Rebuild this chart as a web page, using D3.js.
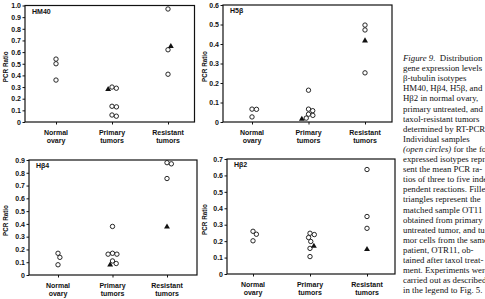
<!DOCTYPE html>
<html>
<head>
<meta charset="utf-8">
<script src="https://cdn.jsdelivr.net/npm/d3@7"></script>
<style>
  body { margin: 0; background: #fff; }
  svg { display: block; }
</style>
</head>
<body>
<svg id="chart" width="485" height="299"></svg>
<script>
// categories on the x axis of every panel
const categories = ["Normal ovary", "Primary tumors", "Resistant tumors"];
const categoryLines = [["Normal", "ovary"], ["Primary", "tumors"], ["Resistant", "tumors"]];

const panelNames = ["HM40", "H5β", "Hβ4", "Hβ2"];
const yMaxes = [1.0, 0.6, 0.9, 0.7];

// open circles: individual samples, per category
const hm40Normal = [0.54, 0.50, 0.36];
const hm40Primary = [0.30, 0.29, 0.135, 0.13, 0.06, 0.05];
const hm40Resistant = [0.97, 0.62, 0.41];
const hm40Matched = [null, 0.28, 0.65];   // filled triangles (OT11 / OTR11)

const h5bNormal = [0.066, 0.065, 0.026];
const h5bPrimary = [0.163, 0.066, 0.058, 0.04, 0.034, 0.02];
const h5bResistant = [0.497, 0.472, 0.252];
const h5bMatched = [null, 0.015, 0.417];

const hb4Normal = [0.17, 0.138, 0.08];
const hb4Primary = [0.38, 0.17, 0.163, 0.163, 0.11, 0.09];
const hb4Resistant = [0.879, 0.87, 0.755];
const hb4Matched = [null, 0.08, 0.377];

const hb2Normal = [0.26, 0.242, 0.202];
const hb2Primary = [0.248, 0.24, 0.222, 0.198, 0.156, 0.106];
const hb2Resistant = [0.636, 0.35, 0.278];
const hb2Matched = [null, 0.17, 0.15];

const captionLines = [
  [["Figure 9.", true], ["  Distribution", false]],
  [["gene expression levels", false]],
  [["β-tubulin isotypes", false]],
  [["HM40, Hβ4, H5β, and", false]],
  [["Hβ2 in normal ovary,", false]],
  [["primary untreated, and", false]],
  [["taxol-resistant tumors", false]],
  [["determined by RT-PCR.", false]],
  [["Individual samples", false]],
  [["(open circles)", true], [" for the four", false]],
  [["expressed isotypes repre-", false]],
  [["sent the mean PCR ra-", false]],
  [["tios of three to five inde-", false]],
  [["pendent reactions. Filled", false]],
  [["triangles represent the", false]],
  [["matched sample OT11", false]],
  [["obtained from primary", false]],
  [["untreated tumor, and tu-", false]],
  [["mor cells from the same", false]],
  [["patient, OTR11, ob-", false]],
  [["tained after taxol treat-", false]],
  [["ment. Experiments were", false]],
  [["carried out as described", false]],
  [["in the legend to Fig. 5.", false]]
];

const panelData = [
  { circles: [hm40Normal, hm40Primary, hm40Resistant], matched: hm40Matched },
  { circles: [h5bNormal, h5bPrimary, h5bResistant], matched: h5bMatched },
  { circles: [hb4Normal, hb4Primary, hb4Resistant], matched: hb4Matched },
  { circles: [hb2Normal, hb2Primary, hb2Resistant], matched: hb2Matched }
];

// panel boxes (page layout)
const layouts = [
  { left: 25, right: 194.5, top: 5.5, bottom: 122, px: [31, 143], labelX: 6 },
  { left: 223, right: 392, top: 5, bottom: 122, px: [29, 142], labelX: 205 },
  { left: 29, right: 197, top: 160, bottom: 275, px: [29, 138], labelX: 6 },
  { left: 227, right: 395, top: 159, bottom: 274, px: [26, 140], labelX: 205 }
];

const svg = d3.select("#chart");
const font = "'Liberation Sans', Arial, sans-serif";
const ink = "#111";
const D = 4.5; // marker spacing for dodging

// simple beeswarm: push overlapping marks sideways
function dodge(points) {
  const placed = [];
  points.forEach(p => {
    const cands = [0];
    placed.forEach(q => {
      const dy = p.py - q.py;
      if (Math.abs(dy) < D) {
        const dx = Math.sqrt(D * D - dy * dy);
        cands.push(q.dx + dx, q.dx - dx);
      }
    });
    cands.sort((a, b) => Math.abs(a) - Math.abs(b) || b - a);
    let best = 0;
    for (const c of cands) {
      if (placed.every(q => (c - q.dx) ** 2 + (p.py - q.py) ** 2 >= D * D - 1e-6)) { best = c; break; }
    }
    p.dx = best;
    placed.push(p);
  });
}

panelData.forEach((pd, i) => {
  const L = layouts[i];
  const g = svg.append("g");

  const x = d3.scalePoint()
    .domain(categories)
    .range([L.left + L.px[0], L.left + L.px[1]]);

  const y = d3.scaleLinear()
    .domain([0, yMaxes[i]])
    .range([L.bottom, L.top]);

  // y axis
  const yAxis = g.append("g")
    .attr("transform", `translate(${L.left},0)`)
    .call(d3.axisLeft(y)
      .tickValues(d3.range(0, yMaxes[i] + 0.001, 0.1))
      .tickSize(2.5)
      .tickPadding(1.5)
      .tickFormat(d => d < 0.001 ? "0" : d3.format(".1f")(d)));
  yAxis.select(".domain").remove();
  yAxis.selectAll("line").attr("stroke", ink).attr("stroke-width", 1);
  yAxis.selectAll("text")
    .attr("fill", ink)
    .style("font-family", font)
    .style("font-size", "7px")
    .style("font-weight", "bold");

  // x axis ticks
  const xAxis = g.append("g")
    .attr("transform", `translate(0,${L.bottom})`)
    .call(d3.axisBottom(x).tickSize(2.5).tickFormat(""));
  xAxis.select(".domain").remove();
  xAxis.selectAll("line").attr("stroke", ink).attr("stroke-width", 1);

  categories.forEach((c, k) => {
    categoryLines[k].forEach((ln, j) => {
      g.append("text")
        .attr("x", x(c))
        .attr("y", L.bottom + 12.5 + j * 8.5)
        .attr("text-anchor", "middle")
        .attr("fill", ink)
        .style("font-family", font)
        .style("font-size", "7px")
        .style("font-weight", "bold")
        .text(ln);
    });
  });

  // frame
  g.append("rect")
    .attr("x", L.left)
    .attr("y", L.top)
    .attr("width", L.right - L.left)
    .attr("height", L.bottom - L.top)
    .attr("fill", "none")
    .attr("stroke", ink)
    .attr("stroke-width", 1.2);

  // panel name
  g.append("text")
    .attr("x", L.left + 7)
    .attr("y", L.top + 8)
    .attr("fill", ink)
    .style("font-family", font)
    .style("font-size", "7px")
    .style("font-weight", "bold")
    .text(panelNames[i]);

  // y label
  g.append("text")
    .attr("transform", `translate(${L.labelX},${(L.top + L.bottom) / 2 + 3}) rotate(-90)`)
    .attr("text-anchor", "middle")
    .attr("dy", "0.35em")
    .attr("fill", ink)
    .style("font-family", font)
    .style("font-size", "6.3px")
    .style("font-weight", "bold")
    .text("PCR Ratio");

  // marks
  categories.forEach((c, k) => {
    const pts = pd.circles[k].map(v => ({ value: v, kind: "circle", py: y(v) }));
    if (pd.matched[k] != null) pts.push({ value: pd.matched[k], kind: "triangle", py: y(pd.matched[k]) });
    dodge(pts);

    g.selectAll(null)
      .data(pts.filter(p => p.kind === "circle"))
      .enter().append("circle")
      .attr("cx", p => x(c) + p.dx)
      .attr("cy", p => p.py)
      .attr("r", 2.2)
      .attr("fill", "#fff")
      .attr("stroke", ink)
      .attr("stroke-width", 0.9);

    g.selectAll(null)
      .data(pts.filter(p => p.kind === "triangle"))
      .enter().append("path")
      .attr("transform", p => `translate(${x(c) + p.dx},${p.py})`)
      .attr("d", d3.symbol().type(d3.symbolTriangle).size(15))
      .attr("fill", ink);
  });
});

// caption on the right (the page crop cuts it at the right edge)
const cap = svg.append("g")
  .style("font-family", "'Liberation Serif', 'Times New Roman', serif")
  .style("font-size", "8.8px")
  .attr("fill", ink);

captionLines.forEach((parts, i) => {
  const t = cap.append("text")
    .attr("x", 403)
    .attr("y", 61 + i * 10.1)
    .attr("xml:space", "preserve");
  parts.forEach(([s, it]) => {
    t.append("tspan")
      .style("font-style", it ? "italic" : "normal")
      .text(s);
  });
});
</script>
</body>
</html>
